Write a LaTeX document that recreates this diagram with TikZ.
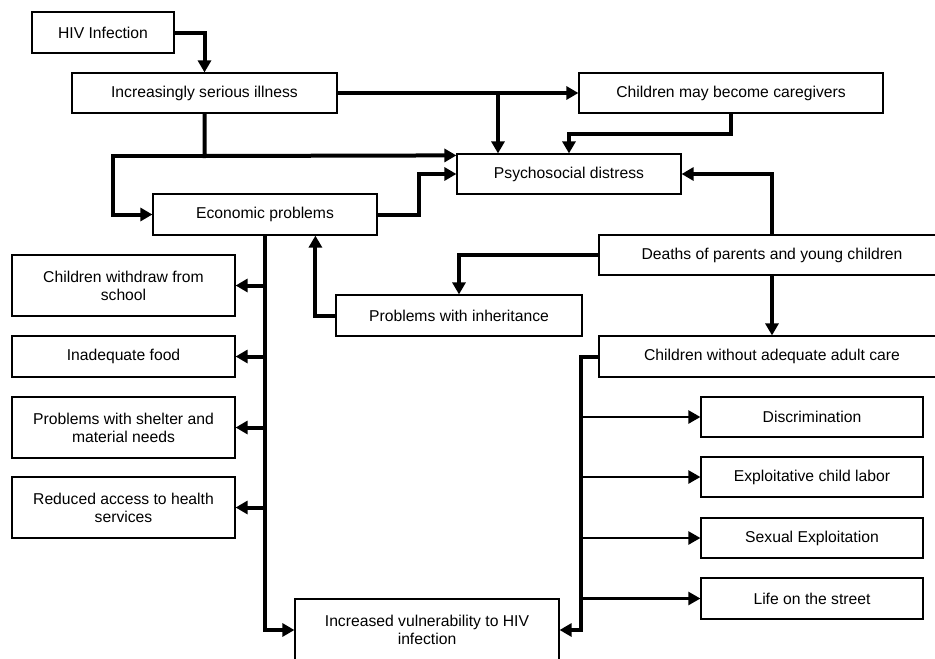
\documentclass[tikz,border=0pt]{standalone}
\usepackage{fontspec}
\setmainfont{Liberation Sans}
\usetikzlibrary{arrows.meta,calc}
\tikzset{
  box/.style={rectangle, draw=black, line width=1.2pt, fill=white, align=center, inner sep=2pt, font=\fontsize{15.7}{18}\selectfont},
  conn/.style={line width=4pt, -{Triangle[length=12pt,width=13pt]}},
  thinconn/.style={line width=2.4pt, -{Triangle[length=12pt,width=13pt]}},
}

\begin{document}
\begin{tikzpicture}[x=1pt, y=-1pt]
\useasboundingbox (0,0) rectangle (935,659);

% top of the chain
\node [box, minimum width=142pt, minimum height=41pt] (hiv) at (103,32.5) {HIV Infection};
\node [box, minimum width=265pt, minimum height=40pt] (ill) at (204.5,93) {Increasingly serious illness};
\node [box, minimum width=304pt, minimum height=40pt] (cg) at (731,93) {Children may become caregivers};
\node [box, minimum width=224pt, minimum height=40pt] (psy) at (569,174) {Psychosocial distress};
\node [box, minimum width=224pt, minimum height=41pt] (eco) at (265,214.5) {Economic problems};
\node [box, minimum width=346pt, minimum height=40pt] (death) at (772,255) {Deaths of parents and young children};
\node [box, minimum width=246pt, minimum height=41pt] (inh) at (459,315.5) {Problems with inheritance};
\node [box, minimum width=346pt, minimum height=41pt] (nocare) at (772,356.5) {Children without adequate adult care};

% economic consequences
\node [box, minimum width=223pt, minimum height=61pt] (school) at (123.5,285.5) {Children withdraw from\\school};
\node [box, minimum width=223pt, minimum height=41pt] (food) at (123.5,356.5) {Inadequate food};
\node [box, minimum width=223pt, minimum height=61pt] (shelter) at (123.5,427.5) {Problems with shelter and\\material needs};
\node [box, minimum width=223pt, minimum height=61pt] (health) at (123.5,507.5) {Reduced access to health\\services};

% consequences of missing care
\node [box, minimum width=222pt, minimum height=40pt] (discr) at (812,417) {Discrimination};
\node [box, minimum width=222pt, minimum height=40pt] (labor) at (812,477) {Exploitative child labor};
\node [box, minimum width=222pt, minimum height=40pt] (sexex) at (812,538) {Sexual Exploitation};
\node [box, minimum width=222pt, minimum height=41pt] (street) at (812,598.5) {Life on the street};

\node [box, minimum width=264pt, minimum height=62pt] (vuln) at (427,630) {Increased vulnerability to HIV\\infection};

\coordinate (split) at (498,93);
\coordinate (cgturn) at (731,134);
\coordinate (illturn) at (204.5,156);
\coordinate (leftturn) at (113,156);
\coordinate (carebar) at (581,356.5);

\draw [conn] (hiv.east) -| (ill.north);
\draw [conn] (ill.east) -- (cg.west);
\draw [conn] (split) -- (split |- psy.north);
\draw [conn] (cg.south) -- (cgturn) -| (psy.north);
\draw [conn] (ill.south) -- (illturn) -- ($(psy.north west)+(0,2)$);
\draw [conn] (illturn) -- (leftturn) |- (eco.west);
\draw [conn] (eco.east) -- ++(41,0) |- (psy.west);
\draw [conn] (death.north) |- (psy.east);
\draw [conn] (death.west) -| (inh.north);
\draw [conn] (inh.west) -| ($(eco.south west)+(163,0)$);
\draw [conn] (death.south) -- (nocare.north);

\draw [conn] (eco.south) |- (vuln.west);
\foreach \n in {school,food,shelter,health}
  \draw [conn] (eco.south |- \n.east) -- (\n.east);

\draw [conn] (nocare.west) -- (carebar) |- (vuln.east);
\foreach \n in {discr,labor,sexex,street}
  \draw [thinconn] (carebar |- \n.west) -- (\n.west);

\end{tikzpicture}
\end{document}
